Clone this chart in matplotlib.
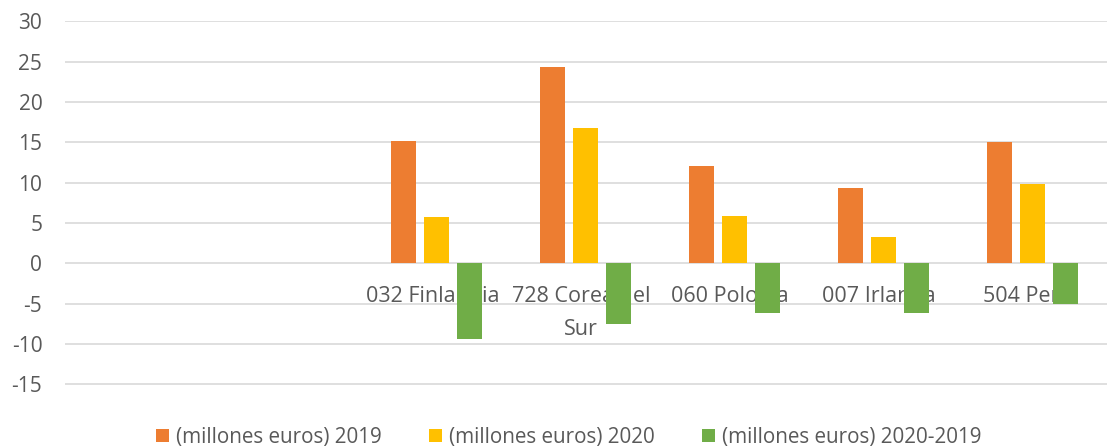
import matplotlib
matplotlib.use('Agg')
import matplotlib.pyplot as plt
import numpy as np

plt.rcParams['font.family'] = ['Open Sans', 'DejaVu Sans']

# datos (millones de euros)
categorias = ['', '', '032 Finlandia', '728 Corea del\nSur', '060 Polonia', '007 Irlanda', '504 Perú']
v2019 = [np.nan, np.nan, 15.2, 24.3, 12.1, 9.4, 15.0]
v2020 = [np.nan, np.nan, 5.8, 16.8, 5.9, 3.3, 9.9]
vdif = [np.nan, np.nan, -9.4, -7.5, -6.2, -6.1, -5.0]
series = ['(millones euros) 2019', '(millones euros) 2020', '(millones euros) 2020-2019']
colores = ['#ED7D31', '#FFC000', '#70AD47']
yticks = [-15, -10, -5, 0, 5, 10, 15, 20, 25, 30]

fig = plt.figure(figsize=(11.11, 4.48), dpi=100)
ax = fig.add_axes([64.5/1111, 1-385/448, (1107-64.5)/1111, (385-21)/448])

x = np.arange(len(categorias))
w = 25/149
paso = 33/149
for k, (vals, nom, col) in enumerate(zip([v2019, v2020, vdif], series, colores)):
    ax.bar(x + (k-1)*paso, vals, width=w, color=col, label=nom, zorder=3)

ax.set_xlim(-0.5, len(categorias)-0.5)
ax.set_ylim(-15.08, 30.05)
ax.set_yticks(yticks)
ax.set_yticklabels([str(t) for t in yticks], fontsize=15, color='#595959')
ax.tick_params(axis='y', length=0, pad=16)
ax.set_xticks([])
ax.grid(axis='y', color='#d9d9d9', linewidth=1.2, zorder=0)
for s in ax.spines.values():
    s.set_visible(False)

# etiquetas de categoría sobre el eje cero (detrás de las barras)
for xi, c in zip(x, categorias):
    ax.text(xi - 0.03, -2.75, c, ha='center', va='top', fontsize=15.5, color='#595959',
            linespacing=1.75, zorder=2)

fig.legend(loc='center', ncol=3, frameon=False, fontsize=14.9,
           bbox_to_anchor=(0.512, 1-437/448), handlelength=0.62, handleheight=0.62,
           handletextpad=0.34, columnspacing=2.3, labelcolor='#595959')

fig.savefig('out.png', dpi=100)
